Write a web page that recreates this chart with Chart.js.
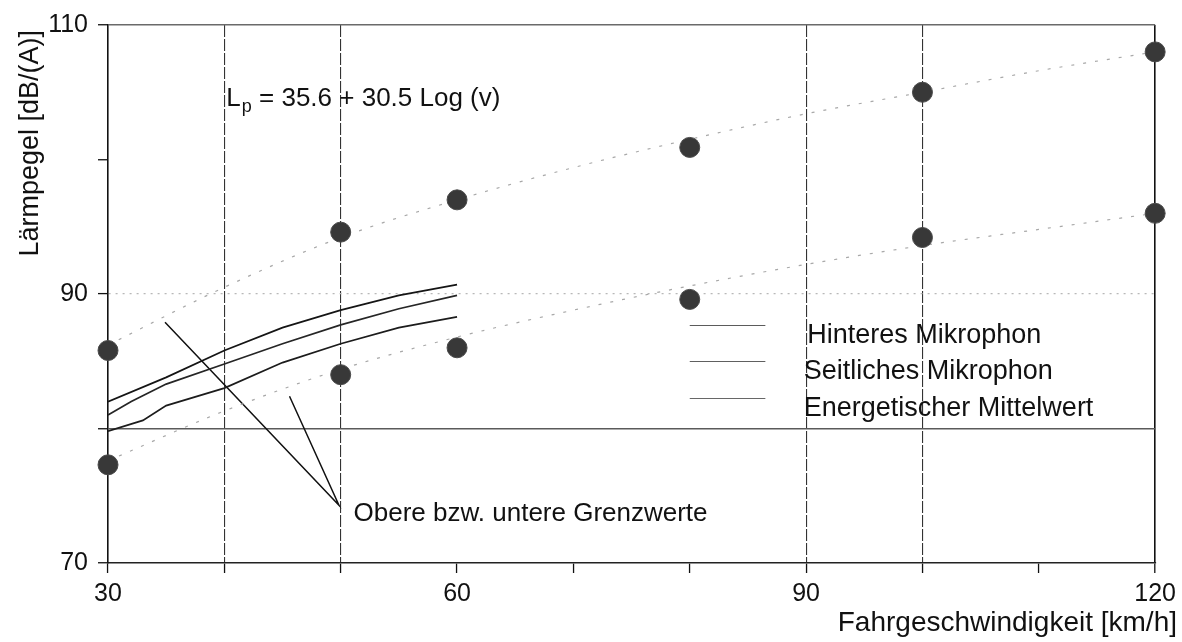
<!DOCTYPE html>
<html>
<head>
<meta charset="utf-8">
<title>Lärmpegel</title>
<script src="https://cdn.jsdelivr.net/npm/chart.js@4.4.1/dist/chart.umd.min.js"></script>
<style>
  html, body { margin: 0; padding: 0; background: #fff; }
  #wrap { width: 1182px; height: 642px; }
</style>
</head>
<body>
<div id="wrap"><canvas id="chart" width="1182" height="642"></canvas></div>
<script>
// Lärmpegel über Fahrgeschwindigkeit

// Messpunkte: obere und untere Grenzwerte
const pointSpeeds = [30, 50, 60, 80, 100, 120];
const upperPoints = [85.8, 94.6, 97.0, 100.9, 105.0, 108.0];
const lowerPoints = [77.3, 84.0, 86.0, 89.6, 94.2, 96.0];

// gepunktete Grenzkurven
const curveSpeeds = [30, 40, 50, 60, 70, 80, 90, 100, 110, 120];
const upperCurve = [86.2, 90.5, 94.2, 97.0, 99.4, 101.5, 103.4, 105.0, 106.6, 108.0];
const lowerCurve = [77.6, 81.3, 84.4, 86.8, 88.8, 90.6, 92.2, 93.6, 94.8, 96.0];

// Mikrophon-Messungen 30..60 km/h
const hinteresSpeeds = [30, 35, 40, 45, 50, 55, 60];
const hinteres = [82.0, 83.8, 85.8, 87.5, 88.8, 89.9, 90.7];
const seitlichesSpeeds = [30, 33, 35, 40, 45, 50, 55, 60];
const seitliches = [79.8, 80.6, 81.7, 83.0, 84.9, 86.3, 87.5, 88.3];
const mittelSpeeds = [30, 32, 35, 40, 45, 50, 55, 60];
const mittelwert = [81.0, 82.0, 83.3, 84.8, 86.3, 87.7, 88.9, 89.9];

// Achsenbeschriftung
const xTickLabels = [30, 60, 90, 120];
const yTickLabels = [70, 90, 110];
const xGridAt = [40, 50, 90, 100];

const legendNames = ['Hinteres Mikrophon', 'Seitliches Mikrophon', 'Energetischer Mittelwert'];

// Hinweislinien zu den Grenzkurven (in Achsenwerten)
const leaderX = [34.9, 49.85, 45.6];
const leaderY = [87.9, 74.3, 82.4];

const FONT = '"Liberation Sans", Arial, Helvetica, sans-serif';

function toXY(xs, ys) {
    return xs.map((x, i) => ({ x: x, y: ys[i] }));
}

const tickValue = ctx => (ctx && ctx.tick) ? ctx.tick.value : null;

// Texte, Legende und Achsentitel
const paperPlugin = {
    id: 'paper',
    beforeDraw(chart) {
        const ctx = chart.ctx;
        ctx.save();
        ctx.fillStyle = '#fff';
        ctx.fillRect(0, 0, chart.width, chart.height);
        ctx.restore();
    },
    afterDraw(chart) {
        const ctx = chart.ctx;
        const xs = chart.scales.x;
        const ys = chart.scales.y;
        ctx.save();
        ctx.fillStyle = '#111';
        ctx.textBaseline = 'alphabetic';

        // Formel
        let fx = xs.getPixelForValue(40) + 2;
        const fy = ys.getPixelForValue(104);
        ctx.font = '26px ' + FONT;
        ctx.fillText('L', fx, fy);
        fx += ctx.measureText('L').width + 1;
        ctx.font = '18px ' + FONT;
        ctx.fillText('p', fx, fy + 6);
        fx += ctx.measureText('p').width;
        ctx.font = '26px ' + FONT;
        ctx.fillText(' = 35.6 + 30.5 Log (v)', fx, fy);

        // Hinweis
        ctx.fillText('Obere bzw. untere Grenzwerte', xs.getPixelForValue(51.1), ys.getPixelForValue(73.1));

        // Legende
        ctx.font = '27px ' + FONT;
        const rowY = [87.66, 85.0, 82.3];
        const ds = [chart.data.datasets[4], chart.data.datasets[5], chart.data.datasets[6]];
        rowY.forEach((v, i) => {
            const y = Math.round(ys.getPixelForValue(v)) + 0.5;
            ctx.strokeStyle = ds[i].borderColor;
            ctx.globalAlpha = 0.7;
            ctx.lineWidth = 1;
            ctx.beginPath();
            ctx.moveTo(xs.getPixelForValue(80), y);
            ctx.lineTo(xs.getPixelForValue(86.5), y);
            ctx.stroke();
            ctx.globalAlpha = 1;
            ctx.fillText(legendNames[i], xs.getPixelForValue(i === 0 ? 90.1 : 89.8), y + 17);
        });

        // Achsentitel
        ctx.textAlign = 'right';
        ctx.font = '28px ' + FONT;
        ctx.fillText('Fahrgeschwindigkeit [km/h]', 1177, 631);
        ctx.font = '27px ' + FONT;
        ctx.translate(38, 30);
        ctx.rotate(-Math.PI / 2);
        ctx.fillText('Lärmpegel [dB/(A)]', 0, 0);
        ctx.restore();
    }
};

const pointStyle = {
    showLine: false,
    pointRadius: 10,
    pointBackgroundColor: '#383838',
    pointBorderColor: '#4a4a4a',
    pointBorderWidth: 1,
    clip: false
};

const dottedStyle = {
    borderColor: '#a8a8a8',
    borderWidth: 1.2,
    borderDash: [3, 9],
    pointRadius: 0,
    tension: 0.4,
    cubicInterpolationMode: 'monotone',
    fill: false
};

const solidStyle = {
    borderWidth: 1.7,
    pointRadius: 0,
    tension: 0,
    fill: false
};

new Chart(document.getElementById('chart'), {
    type: 'scatter',
    data: {
        datasets: [
            Object.assign({ label: 'obere Messwerte', data: toXY(pointSpeeds, upperPoints) }, pointStyle),
            Object.assign({ label: 'untere Messwerte', data: toXY(pointSpeeds, lowerPoints) }, pointStyle),
            Object.assign({ label: 'obere Grenzkurve', data: toXY(curveSpeeds, upperCurve), showLine: true }, dottedStyle),
            Object.assign({ label: 'untere Grenzkurve', data: toXY(curveSpeeds, lowerCurve), showLine: true }, dottedStyle),
            Object.assign({ label: legendNames[0], data: toXY(hinteresSpeeds, hinteres), showLine: true, borderColor: '#151515' }, solidStyle),
            Object.assign({ label: legendNames[1], data: toXY(seitlichesSpeeds, seitliches), showLine: true, borderColor: '#1c1c1c' }, solidStyle),
            Object.assign({ label: legendNames[2], data: toXY(mittelSpeeds, mittelwert), showLine: true, borderColor: '#262626' }, solidStyle),
            {
                label: 'Hinweis',
                data: toXY(leaderX, leaderY),
                showLine: true,
                borderColor: '#111',
                borderWidth: 1.5,
                pointRadius: 0,
                tension: 0
            }
        ]
    },
    options: {
        responsive: false,
        animation: false,
        events: [],
        layout: { padding: { top: 24, right: 22, left: 0, bottom: 0 } },
        plugins: {
            legend: { display: false },
            tooltip: { enabled: false }
        },
        scales: {
            x: {
                type: 'linear',
                min: 30,
                max: 120,
                afterFit: s => { s.height = 79; },
                ticks: {
                    stepSize: 10,
                    autoSkip: false,
                    maxRotation: 0,
                    padding: 6,
                    color: '#111',
                    font: { family: FONT, size: 25 },
                    callback: v => xTickLabels.includes(v) ? String(v) : ''
                },
                grid: {
                    color: ctx => {
                        const v = tickValue(ctx);
                        if (v === 120) return '#111';
                        return xGridAt.includes(v) ? '#333' : 'rgba(0,0,0,0)';
                    },
                    lineWidth: ctx => tickValue(ctx) === 120 ? 1.6 : 1.1,
                    tickColor: '#111',
                    tickLength: 10,
                    tickWidth: 1.3
                },
                border: {
                    color: '#222',
                    width: 1.6,
                    dash: ctx => xGridAt.includes(tickValue(ctx)) ? [12, 2] : []
                }
            },
            y: {
                type: 'linear',
                min: 70,
                max: 110,
                afterFit: s => { s.width = 108; },
                ticks: {
                    stepSize: 10,
                    autoSkip: false,
                    padding: 10,
                    color: '#111',
                    font: { family: FONT, size: 25 },
                    callback: v => yTickLabels.includes(v) ? String(v) : ''
                },
                grid: {
                    color: ctx => {
                        const v = tickValue(ctx);
                        if (v === 80) return '#5a5a5a';
                        if (v === 90) return '#b8b8b8';
                        if (v === 110) return '#6a6a6a';
                        return 'rgba(0,0,0,0)';
                    },
                    lineWidth: ctx => tickValue(ctx) === 90 ? 1.2 : 1.5,
                    tickColor: '#111',
                    tickLength: 10,
                    tickWidth: 1.3
                },
                border: {
                    color: '#111',
                    width: 1.6,
                    dash: ctx => tickValue(ctx) === 90 ? [2, 5] : []
                }
            }
        }
    },
    plugins: [paperPlugin]
});
</script>
</body>
</html>
